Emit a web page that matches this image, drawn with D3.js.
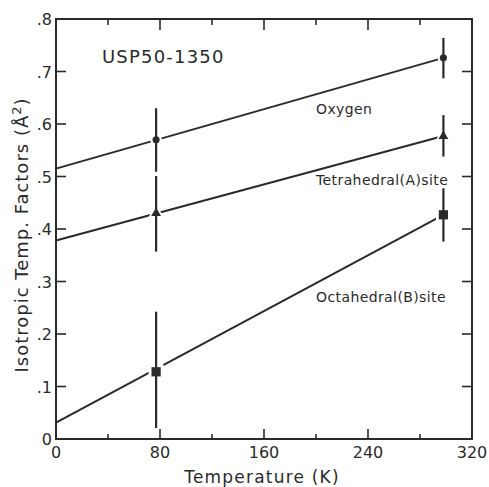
<!DOCTYPE html>
<html><head><meta charset="utf-8">
<script src="https://cdn.jsdelivr.net/npm/d3@7"></script>
<style>body{margin:0;background:#fff}svg{display:block}text{font-family:"DejaVu Sans",sans-serif;fill:#2a2a2a}</style>
</head><body>
<script>
// ---- data ----
const temps = [77, 298];
const oxygen = [0.570, 0.726];
const oxygenLo = [0.509, 0.687];
const oxygenHi = [0.630, 0.764];
const tetra = [0.430, 0.577];
const tetraLo = [0.357, 0.538];
const tetraHi = [0.501, 0.617];
const octa = [0.128, 0.427];
const octaLo = [0.021, 0.376];
const octaHi = [0.2425, 0.4775];
const fitT = [0, 298];
const oxygenFit = [0.515, 0.726];
const tetraFit = [0.378, 0.577];
const octaFit = [0.031, 0.427];
const xTicks = [0, 80, 160, 240, 320];
const xMinor = [40, 120, 200, 280];
const yTicks = [0, 0.1, 0.2, 0.3, 0.4, 0.5, 0.6, 0.7, 0.8];
const yTickLabels = ["0", ".1", ".2", ".3", ".4", ".5", ".6", ".7", ".8"];

const W = 489, H = 487;
const m = {l: 56, r: 17, t: 19, b: 48};
const svg = d3.select("body").append("svg").attr("width", W).attr("height", H);
const x = d3.scaleLinear().domain([0, 320]).range([m.l, W - m.r]);
const y = d3.scaleLinear().domain([0, 0.8]).range([H - m.b, m.t]);
const col = "#2a2a2a";

// ticks (inward)
const g = svg.append("g").attr("stroke", col).attr("stroke-width", 1.6);
xTicks.slice(1, -1).forEach(t => {
  g.append("line").attr("x1", x(t)).attr("x2", x(t)).attr("y1", y(0)).attr("y2", y(0) - 10);
  g.append("line").attr("x1", x(t)).attr("x2", x(t)).attr("y1", y(0.8)).attr("y2", y(0.8) + 11);
});
xMinor.forEach(t => {
  g.append("line").attr("x1", x(t)).attr("x2", x(t)).attr("y1", y(0)).attr("y2", y(0) - 5);
  g.append("line").attr("x1", x(t)).attr("x2", x(t)).attr("y1", y(0.8)).attr("y2", y(0.8) + 6);
});
yTicks.slice(1, -1).forEach(v => {
  g.append("line").attr("x1", x(0)).attr("x2", x(0) + 10).attr("y1", y(v)).attr("y2", y(v));
  g.append("line").attr("x1", x(320)).attr("x2", x(320) - 10).attr("y1", y(v)).attr("y2", y(v));
});
// frame
svg.append("rect").attr("x", x(0)).attr("y", y(0.8)).attr("width", x(320) - x(0)).attr("height", y(0) - y(0.8))
  .attr("fill", "none").attr("stroke", col).attr("stroke-width", 2);

// tick labels
svg.selectAll(".xl").data(xTicks).enter().append("text")
  .attr("x", d => x(d)).attr("y", y(0) + 19).attr("text-anchor", "middle")
  .attr("font-size", 16).text(d => d);
svg.selectAll(".yl").data(yTicks).enter().append("text")
  .attr("x", x(0) - 4).attr("y", d => y(d) + 6).attr("text-anchor", "end")
  .attr("font-size", 16).text((d, i) => yTickLabels[i]);

// axis titles
svg.append("text").attr("x", 262).attr("y", 483).attr("text-anchor", "middle")
  .attr("font-size", 17).attr("letter-spacing", 1.2).text("Temperature (K)");
svg.append("text").attr("transform", `translate(28,${235}) rotate(-90)`).attr("text-anchor", "middle")
  .attr("font-size", 18).attr("letter-spacing", 1).html("Isotropic Temp. Factors (Å<tspan dy='-7' font-size='13'>2</tspan><tspan dy='7'>)</tspan>");

// series
const series = [
  {val: oxygen, lo: oxygenLo, hi: oxygenHi, fit: oxygenFit, sym: d3.symbolCircle, size: 40, label: "Oxygen", lt: 200, lv: 0.629},
  {val: tetra, lo: tetraLo, hi: tetraHi, fit: tetraFit, sym: d3.symbolTriangle, size: 42, label: "Tetrahedral(A)site", lt: 200, lv: 0.493},
  {val: octa, lo: octaLo, hi: octaHi, fit: octaFit, sym: d3.symbolSquare, size: 85, label: "Octahedral(B)site", lt: 200, lv: 0.27}
];
const line = d3.line().x(d => x(d[0])).y(d => y(d[1]));
series.forEach(s => {
  svg.append("path").attr("d", line(fitT.map((t, i) => [t, s.fit[i]])))
    .attr("fill", "none").attr("stroke", col).attr("stroke-width", 2);
});
series.forEach(s => {
  temps.forEach((t, i) => {
    svg.append("path").attr("d", d3.symbol(s.sym, s.size * 2.6)())
      .attr("transform", `translate(${x(t)},${y(s.val[i])})`).attr("fill", "#fff");
  });
});
series.forEach(s => {
  temps.forEach((t, i) => {
    svg.append("line").attr("x1", x(t)).attr("x2", x(t)).attr("y1", y(s.lo[i])).attr("y2", y(s.hi[i]))
      .attr("stroke", col).attr("stroke-width", 2.2);
  });
});
series.forEach(s => {
  temps.forEach((t, i) => {
    svg.append("path").attr("d", d3.symbol(s.sym, s.size)())
      .attr("transform", `translate(${x(t)},${y(s.val[i])})`).attr("fill", col);
  });
  svg.append("text").attr("x", x(s.lt)).attr("y", y(s.lv) + 5).attr("font-size", 14).attr("letter-spacing", 0.4).text(s.label);
});

svg.append("text").attr("x", 102).attr("y", 63).attr("font-size", 18).attr("letter-spacing", 1.2).text("USP50-1350");
</script>
</body></html>
